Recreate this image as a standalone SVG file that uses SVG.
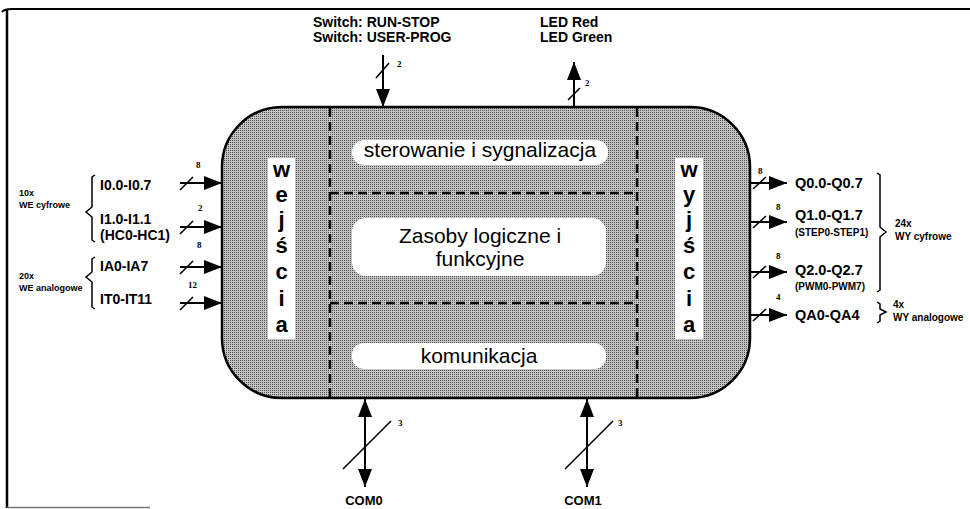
<svg xmlns="http://www.w3.org/2000/svg" width="970" height="509" viewBox="0 0 970 509">
<style>
.t{font-family:"Liberation Sans",Arial,sans-serif;fill:#000}
.b{font-weight:bold}
.lbl{font-size:14px;font-weight:bold}
.sm{font-size:10px;font-weight:bold}
.xs{font-size:9px;font-weight:bold}
.num{font-family:"Liberation Serif","Times New Roman",serif;font-size:9px;font-weight:bold;fill:#000}
.box{font-size:21px}
.vl{font-size:22px;font-weight:bold;text-anchor:middle}
.wl{fill:#fff;stroke:none}
.ln{stroke:#000;stroke-width:2;fill:none}
.sl{stroke:#000;stroke-width:1.6;fill:none}
.dash{stroke:#000;stroke-width:2.5;stroke-dasharray:9 5;fill:none}
.br{stroke:#000;stroke-width:1.5;fill:none}
</style>
<defs>
<pattern id="dots" width="2" height="2" patternUnits="userSpaceOnUse">
<rect width="2" height="2" fill="#c4c4c4"/>
<rect width="1" height="1" fill="#505050"/>
</pattern>
<marker id="ah" viewBox="0 0 18 14" refX="18" refY="7" markerWidth="18" markerHeight="14" orient="auto-start-reverse" markerUnits="userSpaceOnUse">
<path d="M0,0 L18,7 L0,14 z" fill="#000"/>
</marker>
</defs>
<rect width="970" height="509" fill="#fff"/>
<g id="frame">
<path d="M2,12 Q4,9 12,9 L970,9" stroke="#000" stroke-width="2" fill="none"/>
<line x1="7" y1="10" x2="7" y2="508" stroke="#000" stroke-width="2.5"/>
<line x1="7" y1="507.5" x2="150" y2="507.5" stroke="#777" stroke-width="1.5"/>
</g>
<g id="main-block">
<rect x="222" y="107" width="528" height="291" rx="60" ry="60" fill="url(#dots)" stroke="#000" stroke-width="2.5"/>
<line class="dash" x1="330" y1="108" x2="330" y2="397"/>
<line class="dash" x1="637" y1="108" x2="637" y2="397"/>
<line class="dash" x1="330" y1="193" x2="637" y2="193"/>
<line class="dash" x1="330" y1="303" x2="637" y2="303"/>
</g>
<g id="sterowanie">
<rect class="wl" x="352" y="140" width="256" height="25" rx="12"/>
<text class="t box" x="480" y="157" text-anchor="middle">sterowanie i sygnalizacja</text>
</g>
<g id="zasoby">
<rect class="wl" x="352" y="218" width="254" height="58" rx="14"/>
<text class="t box" x="480" y="243" text-anchor="middle">Zasoby logiczne i</text>
<text class="t box" x="480" y="266" text-anchor="middle">funkcyjne</text>
</g>
<g id="komunikacja">
<rect class="wl" x="352" y="343" width="254" height="26" rx="12"/>
<text class="t box" x="479" y="363" text-anchor="middle">komunikacja</text>
</g>
<g id="wejscia">
<rect class="wl" x="268" y="158" width="27" height="181"/>
<text class="t vl" x="281.5" y="177">w</text>
<text class="t vl" x="281.5" y="202">e</text>
<text class="t vl" x="281.5" y="227">j</text>
<text class="t vl" x="281.5" y="253">ś</text>
<text class="t vl" x="281.5" y="279">c</text>
<text class="t vl" x="281.5" y="306">i</text>
<text class="t vl" x="281.5" y="332">a</text>
</g>
<g id="wyjscia">
<rect class="wl" x="675" y="158" width="28" height="181"/>
<text class="t vl" x="689" y="177">w</text>
<text class="t vl" x="689" y="202">y</text>
<text class="t vl" x="689" y="227">j</text>
<text class="t vl" x="689" y="253">ś</text>
<text class="t vl" x="689" y="279">c</text>
<text class="t vl" x="689" y="306">i</text>
<text class="t vl" x="689" y="332">a</text>
</g>
<g id="switch-label">
<text class="t lbl" x="313" y="27">Switch: RUN-STOP</text>
<text class="t lbl" x="313" y="42">Switch: USER-PROG</text>
</g>
<g id="led-label">
<text class="t lbl" x="540" y="27">LED Red</text>
<text class="t lbl" x="540" y="42">LED Green</text>
</g>
<g id="inputs">
<path class="br" d="M95,175 L92,177 L92,207 L86,212 L92,217 L92,240 L95,242"/>
<text class="t xs" x="19" y="196">10x</text>
<text class="t xs" x="19" y="208">WE cyfrowe</text>
<path class="br" d="M95,257 L92,259 L92,272 L86,277 L92,282 L92,307 L95,309"/>
<text class="t xs" x="19" y="279">20x</text>
<text class="t xs" x="19" y="291">WE analogowe</text>
<text class="t lbl" x="100" y="190">I0.0-I0.7</text>
<text class="t lbl" x="100" y="224">I1.0-I1.1</text>
<text class="t lbl" x="100" y="240">(HC0-HC1)</text>
<text class="t lbl" x="100" y="271">IA0-IA7</text>
<text class="t lbl" x="100" y="304">IT0-IT11</text>
<text class="num" x="196" y="168">8</text>
<text class="num" x="198" y="211">2</text>
<text class="num" x="197" y="248">8</text>
<text class="num" x="188" y="288">12</text>
</g>
<g id="outputs">
<text class="t lbl" x="795" y="188" style="font-size:14.5px">Q0.0-Q0.7</text>
<text class="t lbl" x="795" y="220" style="font-size:14.5px">Q1.0-Q1.7</text>
<text class="t sm" x="795" y="236">(STEP0-STEP1)</text>
<text class="t lbl" x="795" y="275" style="font-size:14.5px">Q2.0-Q2.7</text>
<text class="t sm" x="795" y="290">(PWM0-PWM7)</text>
<text class="t lbl" x="795" y="320" style="font-size:14.5px">QA0-QA4</text>
<path class="br" d="M877,173 L880,175 L880,227 L886,232 L880,237 L880,290 L877,292"/>
<text class="t sm" x="895" y="227">24x</text>
<text class="t sm" x="895" y="240">WY cyfrowe</text>
<path class="br" d="M877,302 L880,304 L880,309 L886,312 L880,315 L880,321 L877,323"/>
<text class="t sm" x="893" y="308">4x</text>
<text class="t sm" x="893" y="321">WY analogowe</text>
<text class="num" x="758" y="174">8</text>
<text class="num" x="776" y="210">8</text>
<text class="num" x="776" y="259">8</text>
<text class="num" x="776" y="300">4</text>
</g>
<g id="com-labels">
<text class="t lbl" x="364" y="505" text-anchor="middle" style="font-size:13px">COM0</text>
<text class="t lbl" x="583" y="505" text-anchor="middle" style="font-size:13px">COM1</text>
<text class="num" x="398" y="426">3</text>
<text class="num" x="618" y="426">3</text>
<text class="num" x="397" y="67">2</text>
<text class="num" x="585" y="86">2</text>
</g>
<g id="connectors">
<line class="ln" x1="383" y1="55" x2="383" y2="107" marker-end="url(#ah)"/>
<line class="sl" x1="376" y1="78" x2="389" y2="63"/>
<line class="ln" x1="574" y1="107" x2="574" y2="62" marker-end="url(#ah)"/>
<line class="sl" x1="568" y1="100" x2="580" y2="88"/>
<line class="ln" x1="180" y1="183" x2="222" y2="183" marker-end="url(#ah)"/>
<line class="sl" x1="180" y1="190" x2="193" y2="177"/>
<line class="ln" x1="180" y1="227" x2="222" y2="227" marker-end="url(#ah)"/>
<line class="sl" x1="180" y1="234" x2="193" y2="221"/>
<line class="ln" x1="180" y1="267" x2="222" y2="267" marker-end="url(#ah)"/>
<line class="sl" x1="180" y1="274" x2="193" y2="261"/>
<line class="ln" x1="180" y1="303" x2="222" y2="303" marker-end="url(#ah)"/>
<line class="sl" x1="180" y1="310" x2="193" y2="297"/>
<line class="ln" x1="750" y1="183" x2="787" y2="183" marker-end="url(#ah)"/>
<line class="sl" x1="753" y1="189" x2="766" y2="177"/>
<line class="ln" x1="750" y1="222" x2="787" y2="222" marker-end="url(#ah)"/>
<line class="sl" x1="753" y1="228" x2="766" y2="216"/>
<line class="ln" x1="750" y1="272" x2="787" y2="272" marker-end="url(#ah)"/>
<line class="sl" x1="753" y1="278" x2="766" y2="266"/>
<line class="ln" x1="750" y1="315" x2="787" y2="315" marker-end="url(#ah)"/>
<line class="sl" x1="753" y1="321" x2="766" y2="309"/>
<line class="ln" x1="365" y1="399" x2="365" y2="487" marker-start="url(#ah)" marker-end="url(#ah)"/>
<line class="sl" x1="343" y1="469" x2="391" y2="421"/>
<line class="ln" x1="587" y1="399" x2="587" y2="487" marker-start="url(#ah)" marker-end="url(#ah)"/>
<line class="sl" x1="565" y1="469" x2="613" y2="421"/>
</g>
</svg>
